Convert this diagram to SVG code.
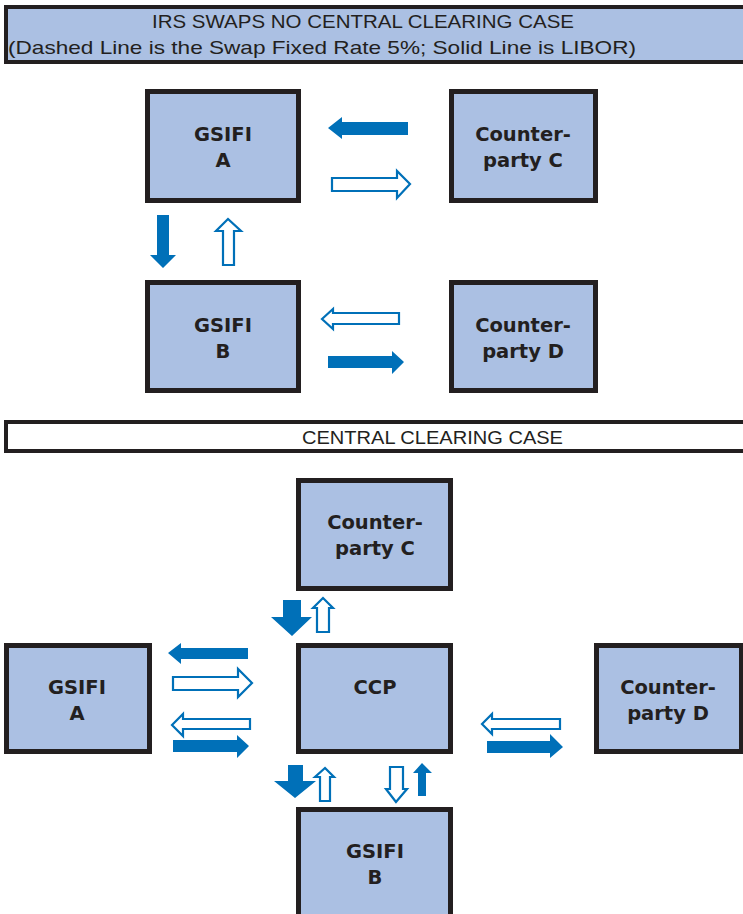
<svg xmlns="http://www.w3.org/2000/svg" width="743" height="914" viewBox="0 0 743 914">
<defs>
<style>
.box{fill:#abc0e3;stroke:#231f20;stroke-width:5}
.lbl{font-family:"DejaVu Sans",Verdana,sans-serif;font-weight:bold;font-size:19.5px;fill:#231f20;text-anchor:middle}
.hdr{font-family:"Liberation Sans",Arial,sans-serif;font-size:19px;fill:#231f20}
.sol{fill:#0070b8;stroke:none}
.hol{fill:#ffffff;stroke:#0070b8;stroke-width:2.2}
</style>
</defs>
<rect width="743" height="914" fill="#ffffff"/>
<g id="title">
<rect x="6" y="7" width="740" height="55" fill="#abc0e3" stroke="#231f20" stroke-width="4"/>
<text class="hdr" x="152" y="28" textLength="422" lengthAdjust="spacingAndGlyphs">IRS SWAPS NO CENTRAL CLEARING CASE</text>
<text class="hdr" x="8" y="54" textLength="628" lengthAdjust="spacingAndGlyphs">(Dashed Line is the Swap Fixed Rate 5%; Solid Line is LIBOR)</text>
</g>
<g id="gsifiA1"><rect class="box" x="147.5" y="91.5" width="151" height="109"/><text class="lbl" x="223" y="141">GSIFI</text><text class="lbl" x="223" y="167">A</text></g>
<g id="cpC1"><rect class="box" x="451.5" y="91.5" width="144" height="109"/><text class="lbl" x="523" y="141">Counter-</text><text class="lbl" x="523" y="167">party C</text></g>
<g id="gsifiB1"><rect class="box" x="147.5" y="282.5" width="151" height="108"/><text class="lbl" x="223" y="332">GSIFI</text><text class="lbl" x="223" y="358">B</text></g>
<g id="cpD1"><rect class="box" x="451.5" y="282.5" width="144" height="108"/><text class="lbl" x="523" y="332">Counter-</text><text class="lbl" x="523" y="358">party D</text></g>
<g id="banner">
<rect x="6" y="422" width="740" height="29" fill="#ffffff" stroke="#231f20" stroke-width="4"/>
<text class="hdr" x="302" y="444" textLength="261" lengthAdjust="spacingAndGlyphs">CENTRAL CLEARING CASE</text>
</g>
<g id="cpC2"><rect class="box" x="298.5" y="480.5" width="152" height="108"/><text class="lbl" x="375" y="529">Counter-</text><text class="lbl" x="375" y="555">party C</text></g>
<g id="gsifiA2"><rect class="box" x="6.5" y="645.5" width="143" height="106"/><text class="lbl" x="77" y="694">GSIFI</text><text class="lbl" x="77" y="720">A</text></g>
<g id="ccp"><rect class="box" x="298.5" y="645.5" width="152" height="106"/><text class="lbl" x="375" y="694">CCP</text></g>
<g id="cpD2"><rect class="box" x="596.5" y="645.5" width="145" height="106"/><text class="lbl" x="668" y="694">Counter-</text><text class="lbl" x="668" y="720">party D</text></g>
<g id="gsifiB2"><rect class="box" x="298.5" y="809.5" width="152" height="110"/><text class="lbl" x="375" y="858">GSIFI</text><text class="lbl" x="375" y="884">B</text></g>
<g id="connectors">
<polygon class="sol" points="328,128 342,117 342,122 408,122 408,135 342,135 342,139"/>
<polygon class="hol" points="410,184 397,171 397,178 332,178 332,191 397,191 397,198"/>
<polygon class="sol" points="163,268 150,255 157,255 157,215 169,215 169,255 176,255"/>
<polygon class="hol" points="228,219 216,231 223,231 223,265 234,265 234,231 241,231"/>
<polygon class="hol" points="322,319 333,309 333,313 399,313 399,324 333,324 333,329"/>
<polygon class="sol" points="404,362 392,351 392,356 328,356 328,368 392,368 392,374"/>
<polygon class="sol" points="292,636 271,617 283,617 283,600 301,600 301,617 312,617"/>
<polygon class="hol" points="323,598 313,608 317,608 317,632 329,632 329,608 333,608"/>
<polygon class="sol" points="168,653 181,643 181,648 248,648 248,659 181,659 181,664"/>
<polygon class="hol" points="252,683 238,669 238,677 173,677 173,690 238,690 238,697"/>
<polygon class="hol" points="172,725 183,714 183,719 250,719 250,729 183,729 183,736"/>
<polygon class="sol" points="249,746 237,735 237,740 173,740 173,752 237,752 237,758"/>
<polygon class="hol" points="482,724 492,714 492,719 560,719 560,729 492,729 492,734"/>
<polygon class="sol" points="563,747 550,734 550,741 487,741 487,753 550,753 550,758"/>
<polygon class="sol" points="295,798 274,781 288,781 288,765 303,765 303,781 316,781"/>
<polygon class="hol" points="325,768 315,777 320,777 320,801 330,801 330,777 334,777"/>
<polygon class="hol" points="396,802 386,789 390,789 390,767 403,767 403,789 407,789"/>
<polygon class="sol" points="422,763 413,773 418,773 418,796 426,796 426,773 432,773"/>
</g>
</svg>
